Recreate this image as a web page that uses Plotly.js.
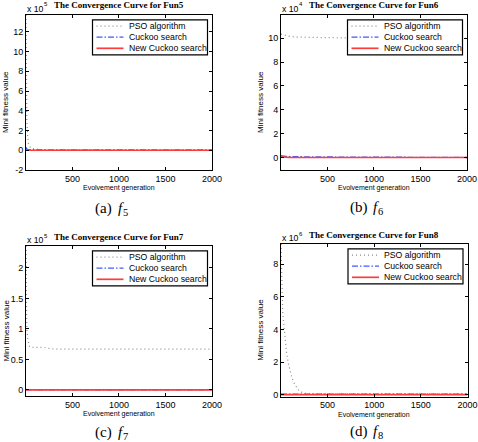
<!DOCTYPE html>
<html>
<head>
<meta charset="utf-8">
<script src="https://cdn.plot.ly/plotly-3.0.1.min.js"></script>
<style>
  html, body { margin: 0; padding: 0; background: #fff; }
  #chart { width: 478px; height: 442px; }
</style>
</head>
<body>
<div id="chart"></div>
<script>
// ---------------- DATA ----------------
// Fun5 (values x 10^5)
const gen5 = [1, 5, 10, 20, 30, 50, 100, 200, 500, 1000, 1500, 2000];
const pso5 = [13.7, 6.0, 3.0, 1.2, 0.6, 0.25, 0.1, 0.05, 0.03, 0.02, 0.02, 0.02];
const cs5  = [0.3, 0.2, 0.12, 0.08, 0.06, 0.05, 0.05, 0.04, 0.04, 0.03, 0.03, 0.03];
const ncs5 = [0.05, 0.02, 0.01, 0, 0, 0, 0, 0, 0, 0, 0, 0];

// Fun6 (values x 10^4)
const gen6 = [1, 20, 50, 100, 170, 300, 500, 1000, 1500, 2000];
const pso6 = [10.35, 10.3, 10.25, 10.15, 10.1, 10.1, 10.05, 10.0, 10.0, 10.0];
const cs6  = [0.15, 0.12, 0.1, 0.08, 0.06, 0.05, 0.04, 0.02, 0.01, 0.0];
const ncs6 = [0.05, 0.03, 0.02, 0.01, 0.0, 0.0, 0.0, 0.0, 0.0, 0.0];

// Fun7 (values x 10^5)
const gen7 = [1, 3, 10, 20, 35, 50, 100, 200, 250, 300, 500, 1000, 1500, 2000];
const pso7 = [2.36, 1.5, 1.0, 0.85, 0.72, 0.70, 0.70, 0.695, 0.68, 0.67, 0.67, 0.67, 0.67, 0.67];
const cs7  = [0.01, 0.005, 0.003, 0.002, 0.001, 0.001, 0, 0, 0, 0, 0, 0, 0, 0];
const ncs7 = [0, 0, 0, 0, 0, 0, 0, 0, 0, 0, 0, 0, 0, 0];

// Fun8 (values x 10^6)
const gen8 = [1, 10, 20, 40, 60, 80, 100, 120, 150, 170, 200, 250, 300, 500, 1000, 1500, 2000];
const pso8 = [9.25, 6.5, 5.0, 3.8, 2.6, 1.9, 1.4, 1.0, 0.6, 0.45, 0.2, 0.08, 0.05, 0.05, 0.05, 0.05, 0.05];
const cs8  = [0.03, 0.03, 0.02, 0.02, 0.02, 0.02, 0.02, 0.02, 0.02, 0.02, 0.02, 0.02, 0.02, 0.02, 0.02, 0.02, 0.02];
const ncs8 = [0, 0, 0, 0, 0, 0, 0, 0, 0, 0, 0, 0, 0, 0, 0, 0, 0];

// Labels
const seriesNames = ["PSO algorithm", "Cuckoo search", "New Cuckoo search"];
const funNames = ["Fun5", "Fun6", "Fun7", "Fun8"];
const captionLetters = ["a", "b", "c", "d"];
const captionSubs = ["5", "6", "7", "8"];
const exponents = ["5", "4", "5", "6"];
const xTickVals = [500, 1000, 1500, 2000];
const xTickText = ["500", "1000", "1500", "2000"];
const yTickVals5 = [-2, 0, 2, 4, 6, 8, 10, 12];
const yTickText5 = ["-2", "0", "2", "4", "6", "8", "10", "12"];
const yTickVals6 = [0, 2, 4, 6, 8, 10];
const yTickText6 = ["0", "2", "4", "6", "8", "10"];
const yTickVals7 = [0, 0.5, 1, 1.5, 2];
const yTickText7 = ["0", "0.5", "1", "1.5", "2"];
const yTickVals8 = [0, 2, 4, 6, 8];
const yTickText8 = ["0", "2", "4", "6", "8"];

// ---------------- LAYOUT / STYLE ----------------
const W = 478, H = 442;
const px = p => p / W;
const py = p => 1 - p / H;

const panels = [
  {box: {l: 26, r: 212, t: 15, b: 170},   yr: [-2, 13.7],    tv: yTickVals5, tt: yTickText5, gen: gen5, s: [pso5, cs5, ncs5], cap: 38},
  {box: {l: 281, r: 467, t: 15, b: 170},  yr: [-1.05, 11.95], tv: yTickVals6, tt: yTickText6, gen: gen6, s: [pso6, cs6, ncs6], cap: 37},
  {box: {l: 26, r: 212, t: 246, b: 396},  yr: [-0.1, 2.36],  tv: yTickVals7, tt: yTickText7, gen: gen7, s: [pso7, cs7, ncs7], cap: 36},
  {box: {l: 281, r: 467.5, t: 244, b: 396.5}, yr: [-0.12, 9.25], tv: yTickVals8, tt: yTickText8, gen: gen8, s: [pso8, cs8, ncs8], cap: 34.5},
];

const styles = [
  {color: "#8c8c8c", dash: "1px,3px", width: 1.2},
  {color: "#3f5cff", dash: "6px,2px,1.5px,2px", width: 1.3},
  {color: "#ff3c3c", dash: "solid", width: 1.7},
];

const sansFont = "Liberation Sans, Arial, sans-serif";
const serifFont = "Liberation Serif, Times New Roman, serif";

const traces = [];
const layout = {
  width: W, height: H,
  margin: {l: 0, r: 0, t: 0, b: 0},
  paper_bgcolor: "#ffffff",
  plot_bgcolor: "#ffffff",
  showlegend: false,
  font: {family: sansFont, color: "#000", size: 9},
  annotations: [],
  shapes: [],
};

function note(x, y, text, font, extra) {
  layout.annotations.push(Object.assign({
    xref: "paper", yref: "paper", x: px(x), y: py(y),
    xanchor: "left", yanchor: "middle", showarrow: false,
    text: text, font: Object.assign({color: "#000"}, font),
  }, extra || {}));
}

panels.forEach((p, i) => {
  const n = i === 0 ? "" : String(i + 1);
  const xa = "xaxis" + n, ya = "yaxis" + n;
  const b = p.box;
  const axisCommon = {
    showline: true, linecolor: "#000", linewidth: 1, mirror: "ticks",
    ticks: "inside", ticklen: 3, tickcolor: "#000", tickwidth: 1,
    showgrid: false, zeroline: false,
    tickfont: {family: sansFont, size: 9, color: "#000"},
    fixedrange: true,
  };
  layout[xa] = Object.assign({
    domain: [px(b.l), px(b.r)],
    anchor: "y" + n,
    range: [1, 2000],
    tickmode: "array", tickvals: xTickVals, ticktext: xTickText,
  }, axisCommon);
  layout[ya] = Object.assign({
    domain: [py(b.b), py(b.t)],
    anchor: "x" + n,
    range: p.yr,
    tickmode: "array", tickvals: p.tv, ticktext: p.tt,
  }, axisCommon);

  p.s.forEach((vals, k) => {
    traces.push({
      type: "scatter", mode: "lines",
      x: p.gen, y: vals,
      xaxis: "x" + n, yaxis: "y" + n,
      name: seriesNames[k],
      line: {color: styles[k].color, dash: styles[k].dash, width: styles[k].width},
      showlegend: false, hoverinfo: "skip",
    });
  });

  const cx = (b.l + b.r) / 2;
  // Title
  note(cx, b.t - 9.5, "The Convergence Curve for " + funNames[i],
       {family: serifFont, size: 9, weight: "bold"}, {xanchor: "center"});
  // Exponent label "x 10^n"
  note(b.l - 1, b.t - 6, "x 10", {family: sansFont, size: 8.7});
  note(b.l + 15.6, b.t - 10.5, exponents[i], {family: sansFont, size: 6});
  // X axis title
  note(cx, b.b + 18, "Evolvement generation", {family: sansFont, size: 7}, {xanchor: "center"});
  // Y axis title
  note(b.l - 20.5, (b.t + b.b) / 2 + 10, "Mini fitness value", {family: sansFont, size: 8},
       {xanchor: "center", textangle: -90});
  // Caption "(a) f5"
  const cs = cx - 26.3, cy = b.b + p.cap;
  note(cs, cy, "(" + captionLetters[i] + ")", {family: serifFont, size: 15});
  note(cs + 23.5, cy, "f", {family: serifFont, size: 15, style: "italic"});
  note(cs + 28.3, cy + 4, captionSubs[i], {family: serifFont, size: 10.5});

  // Legend box (drawn manually to match MATLAB compact legend)
  const lr = b.r - 4.5, ll = lr - 115, lt = b.t + 4.8, lb = lt + 35;
  layout.shapes.push({
    type: "rect", xref: "paper", yref: "paper",
    x0: px(ll), x1: px(lr), y0: py(lb), y1: py(lt),
    line: {color: "#000", width: 1.2}, fillcolor: "#ffffff", layer: "above",
  });
  const rowOff = [6.3, 17.3, 28.5];
  seriesNames.forEach((nm, k) => {
    const yy = lt + rowOff[k];
    layout.shapes.push({
      type: "line", xref: "paper", yref: "paper",
      x0: px(ll + 4), x1: px(ll + 31), y0: py(yy), y1: py(yy),
      line: {color: styles[k].color, dash: styles[k].dash, width: styles[k].width},
      layer: "above",
    });
    note(ll + 34, yy, nm, {family: sansFont, size: 8.7});
  });
});

Plotly.newPlot("chart", traces, layout, {staticPlot: true, displayModeBar: false});
</script>
</body>
</html>
